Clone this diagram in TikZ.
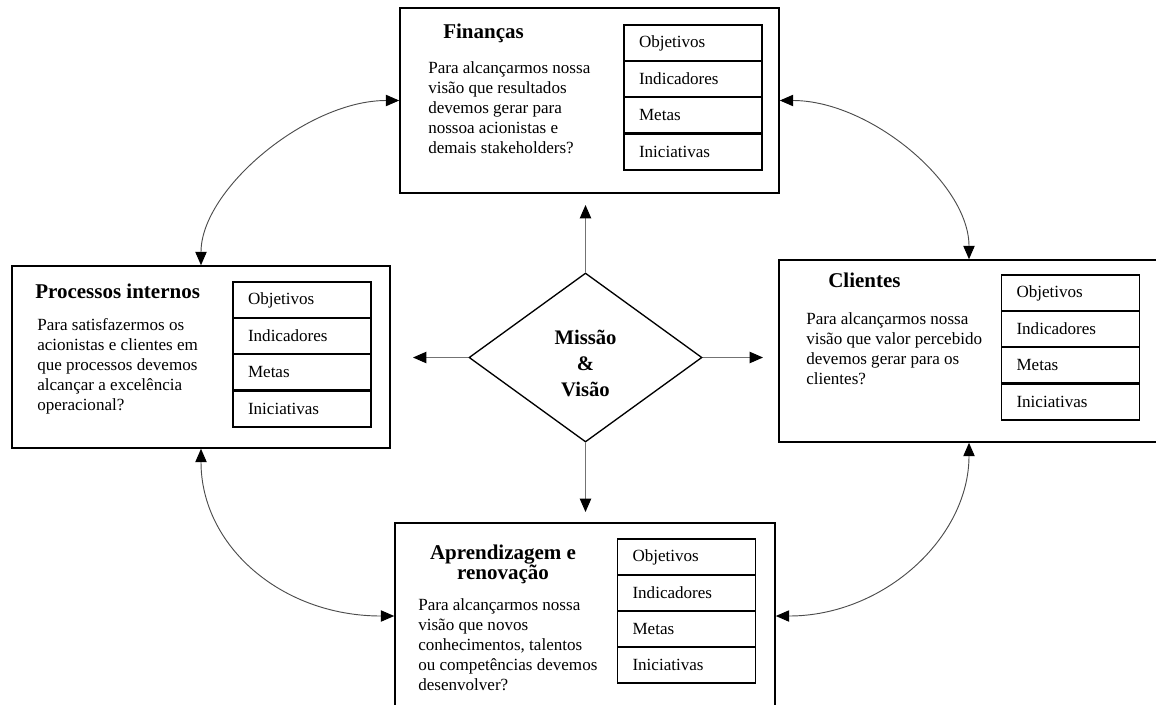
\documentclass[tikz,border=0pt]{standalone}
\usepackage{fontspec}
\setmainfont{Liberation Serif}
\usetikzlibrary{arrows.meta,shapes.geometric,positioning}

\begin{document}
\begin{tikzpicture}[x=0.75pt,y=-0.75pt]
	\tikzstyle{perspective}=[rectangle,draw=black,line width=1.2pt,inner sep=0pt]
	\tikzstyle{heading}=[anchor=base west,inner sep=0pt,font=\fontsize{15.75}{15}\selectfont\bfseries]
	\tikzstyle{question}=[anchor=north west,inner sep=0pt,align=left,font=\fontsize{12.8}{15}\selectfont]
	\tikzstyle{row}=[rectangle,draw=black,line width=1pt,outer sep=0pt,inner ysep=0pt,inner xsep=11.25pt,text width=81pt,align=left,minimum height=27pt,font=\fontsize{12.8}{15}\selectfont]
	\tikzstyle{spoke}=[draw=black!55,line width=0.8pt,-{Triangle[length=10pt,width=8.5pt,color=black]}]
	\tikzstyle{feedback}=[draw=black!70,line width=0.7pt,{Triangle[length=10pt,width=8.5pt,color=black]}-{Triangle[length=10pt,width=8.5pt,color=black]}]
	\useasboundingbox (0,0) rectangle (1156,704);
	\node[perspective,minimum width=284.25pt,minimum height=138.75pt] (fin) at (589.5,100.5) {};
	\node[perspective,minimum width=283.5pt,minimum height=136.5pt] (proc) at (201,357) {};
	\node[perspective,minimum width=285pt,minimum height=136.5pt] (cli) at (969,351) {};
	\node[perspective,minimum width=285pt,minimum height=139.5pt] (apr) at (585,616) {};
	\node[diamond,draw=black,line width=1pt,minimum width=174.75pt,minimum height=126.75pt,inner sep=0pt,align=center,font=\fontsize{15.5}{19.5}\selectfont\bfseries] (mv) at (585.5,357.5) {\rule{0pt}{20pt}Missão\\\&\\Visão};
	\node[heading] (fint) at (443,38) {Finanças};
	\node[question] (finq) at (428,61) {Para alcançarmos nossa\\visão que resultados\\devemos gerar para\\nossoa acionistas e\\demais stakeholders?};
	\node[heading] (proct) at (35,298) {Processos internos};
	\node[question] (procq) at (37,318) {Para satisfazermos os\\acionistas e clientes em\\que processos devemos\\alcançar a excelência\\operacional?};
	\node[heading] (clit) at (828,287) {Clientes};
	\node[question] (cliq) at (806,312) {Para alcançarmos nossa\\visão que valor percebido\\devemos gerar para os\\clientes?};
	\node[heading,anchor=north,align=center] (aprt) at (503,545) {Aprendizagem e\\renovação};
	\node[question] (aprq) at (418,598) {Para alcançarmos nossa\\visão que novos\\conhecimentos, talentos\\ou competências devemos\\desenvolver?};
	\node[row] (fin1) at (693,43) {Objetivos};
	\node[row,below=0pt of fin1] (fin2) {Indicadores};
	\node[row,below=0pt of fin2] (fin3) {Metas};
	\node[row,below=0.75pt of fin3] (fin4) {Iniciativas};
	\node[row] (proc1) at (302,300) {Objetivos};
	\node[row,below=0pt of proc1] (proc2) {Indicadores};
	\node[row,below=0pt of proc2] (proc3) {Metas};
	\node[row,below=0.75pt of proc3] (proc4) {Iniciativas};
	\node[row] (cli1) at (1070.5,293) {Objetivos};
	\node[row,below=0pt of cli1] (cli2) {Indicadores};
	\node[row,below=0pt of cli2] (cli3) {Metas};
	\node[row,below=0.75pt of cli3] (cli4) {Iniciativas};
	\node[row] (apr1) at (686.5,557) {Objetivos};
	\node[row,below=0pt of apr1] (apr2) {Indicadores};
	\node[row,below=0pt of apr2] (apr3) {Metas};
	\node[row,below=0pt of apr3] (apr4) {Iniciativas};
	\coordinate (mvup) at (585.5,205);
	\coordinate (mvdown) at (585.5,512);
	\coordinate (mvleft) at (413,357.5);
	\coordinate (mvright) at (763,357.5);
	\draw[spoke] (mv.north) -- (mvup);
	\draw[spoke] (mv.south) -- (mvdown);
	\draw[spoke] (mv.west) -- (mvleft);
	\draw[spoke] (mv.east) -- (mvright);
	\draw[feedback] (fin.west) .. controls +(-92,0) and +(0,-76) .. (proc.north);
	\draw[feedback] (fin.east) .. controls +(90,0) and +(0,-76) .. (cli.north);
	\draw[feedback] (proc.south) .. controls +(0,97) and +(-113,0) .. (apr.west);
	\draw[feedback] (cli.south) .. controls +(0,95) and +(108,0) .. (apr.east);
\end{tikzpicture}
\end{document}
